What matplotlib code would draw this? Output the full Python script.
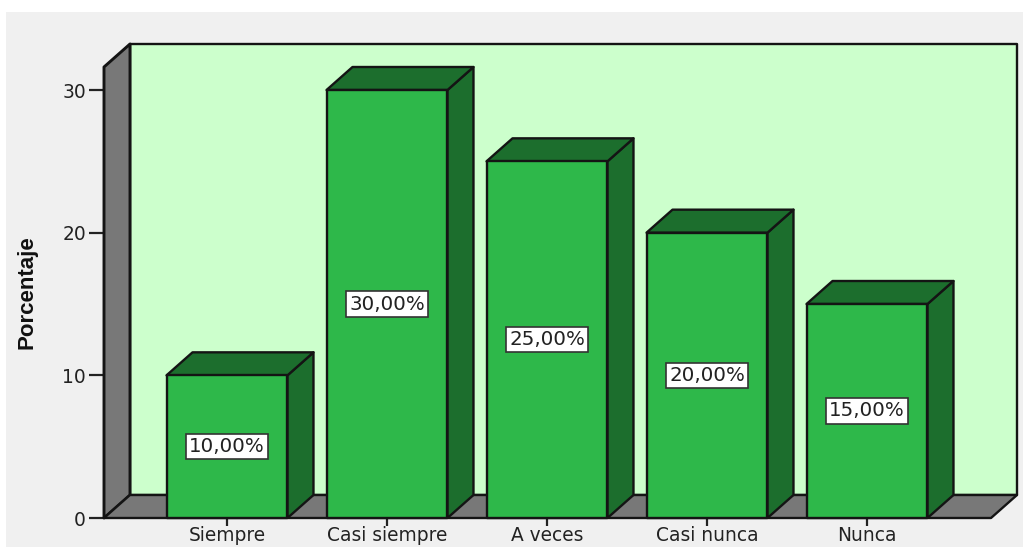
import matplotlib
matplotlib.use("Agg")
import matplotlib.pyplot as plt
from matplotlib.patches import Polygon, Rectangle
from matplotlib.transforms import IdentityTransform

categories = ["Siempre", "Casi siempre", "A veces", "Casi nunca", "Nunca"]
values = [10, 30, 25, 20, 15]
labels = ["10,00%", "30,00%", "25,00%", "20,00%", "15,00%"]
yticks = [0, 10, 20, 30]

W, H = 1023, 547
BG, WALL, GREEN, DARK, EDGE = "#f0f0f0", "#787878", "#2eb84a", "#1c6e2d", "#141414"
DX, DY = 26, 23   # depth of the 3D projection, pixels

fig = plt.figure(figsize=(W / 100, H / 100), dpi=100, facecolor="white")
fig.add_artist(Rectangle((6 / W, 0), 1 - 6 / W, 1 - 12 / H, transform=fig.transFigure,
                         facecolor=BG, edgecolor="none", zorder=-5))

# front plane of the 3D box: x 104..991, y 67..518 px (from top)
ax = fig.add_axes([104 / W, (H - 518) / H, (991 - 104) / W, (518 - 67) / H])
ax.patch.set_visible(False)
ax.set_xlim((104 - 227) / 160, (991 - 227) / 160)
ax.set_ylim(0, (518 - 67) / (428 / 30))
for s in ax.spines.values():
    s.set_visible(False)


def poly(pts, fc, z, lw=1.7):
    ax.add_patch(Polygon(pts, closed=True, facecolor=fc, edgecolor=EDGE, linewidth=lw,
                         joinstyle="round", transform=IdentityTransform(),
                         clip_on=False, zorder=z))


fig.canvas.draw()
tr = ax.transData.transform
xl, xr = ax.get_xlim()
yb, yt = ax.get_ylim()
(x0, y0), (x1, y1) = tr((xl, yb)), tr((xr, yt))

poly([(x0 + DX, y0 + DY), (x1 + DX, y0 + DY), (x1 + DX, y1 + DY), (x0 + DX, y1 + DY)], "#ccffcc", 1)
poly([(x0, y0), (x0 + DX, y0 + DY), (x0 + DX, y1 + DY), (x0, y1)], WALL, 2, lw=2.1)
poly([(x0, y0), (x1, y0), (x1 + DX, y0 + DY), (x0 + DX, y0 + DY)], WALL, 2)

half = 0.378
for i, (v, lab) in enumerate(zip(values, labels)):
    (l, b), (r, t) = tr((i - half, 0)), tr((i + half, v))
    poly([(r, b), (r + DX, b + DY), (r + DX, t + DY), (r, t)], DARK, 3)
    poly([(l, t), (r, t), (r + DX, t + DY), (l + DX, t + DY)], DARK, 3)
    poly([(l, b), (r, b), (r, t), (l, t)], GREEN, 4)
    ax.text(i, v / 2, lab, ha="center", va="center", fontsize=14.3, color="#222222",
            family="DejaVu Sans", zorder=6, clip_on=False,
            bbox=dict(boxstyle="square,pad=0.16", facecolor="white", edgecolor="#333333", linewidth=1.2))

ax.set_xticks(range(len(categories)))
ax.set_xticklabels(categories, fontsize=13.4, color="#222222", family="DejaVu Sans")
ax.set_yticks(yticks)
ax.set_yticklabels([str(y) for y in yticks], fontsize=13.4, color="#222222", family="DejaVu Sans")
ax.tick_params(axis="x", length=6, width=1.6, color="#222222", pad=0)
ax.tick_params(axis="y", length=11, width=1.6, color="#222222", pad=2)
ax.set_zorder(3)
fig.text(27 / W, 1 - 292.5 / H, "Porcentaje", rotation=90, ha="center", va="center",
         fontsize=16, fontweight="bold", family="Liberation Sans", color="#111111")

fig.savefig("out.png", dpi=100, facecolor="white")
